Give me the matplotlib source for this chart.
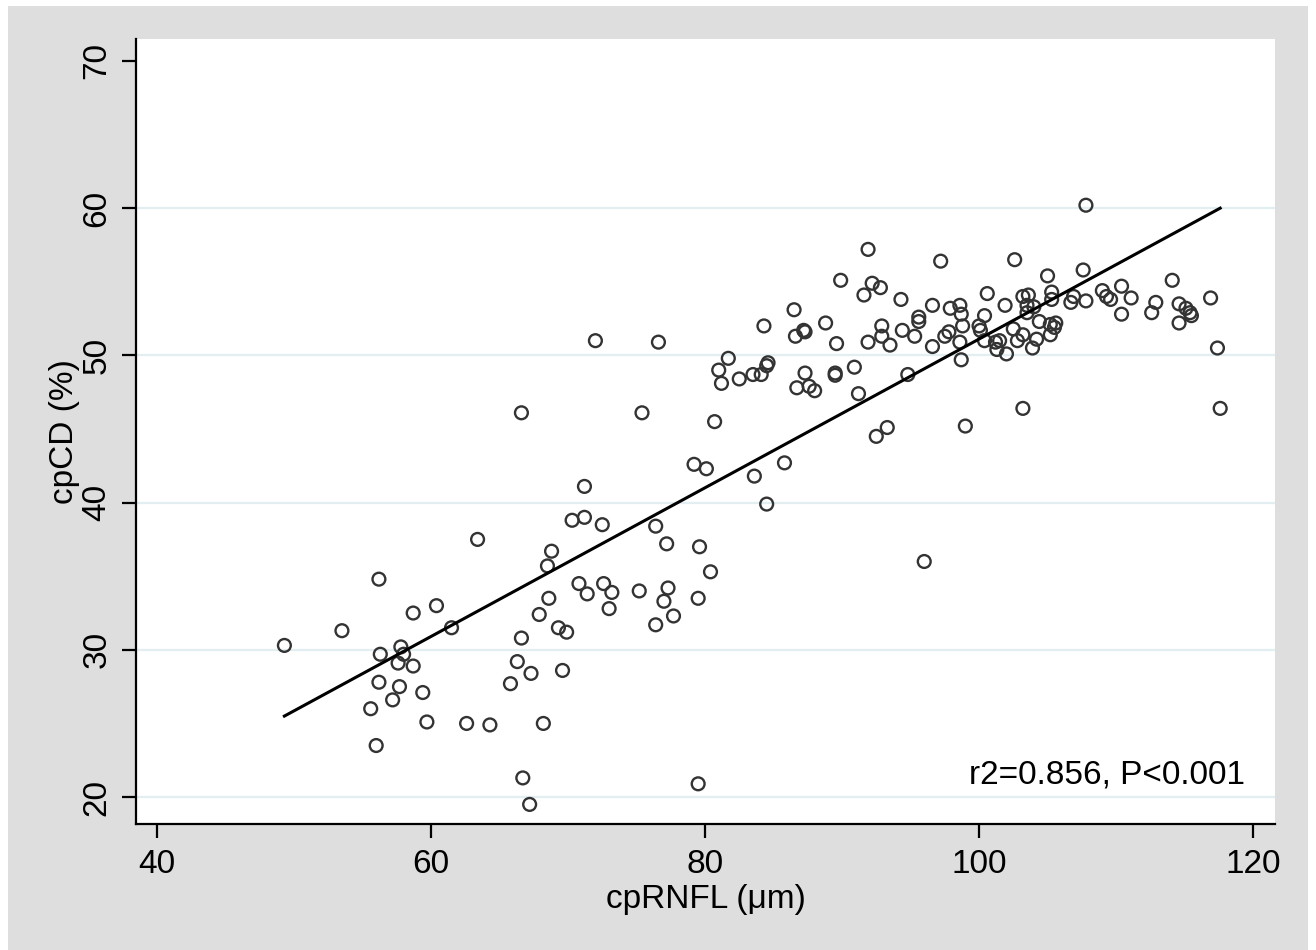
import matplotlib.pyplot as plt
from matplotlib.patches import Rectangle

plt.rcParams['font.family'] = ['Liberation Sans', 'DejaVu Sans']

# cpRNFL (um) values
rnfl = [49.3, 53.5, 56.2, 63.4, 70.3, 71.2, 72.5, 68.8, 68.5, 70.8,
        71.4, 72.6, 73.0, 73.2, 60.4, 58.7, 61.5, 56.3, 57.8, 58.0,
        57.6, 58.7, 56.2, 57.7, 59.4, 57.2, 55.6, 59.7, 62.6, 64.3,
        68.2, 56.0, 66.6, 66.3, 67.3, 65.8, 67.9, 68.6, 69.3, 69.9,
        69.6, 66.7, 67.2,
        66.6, 75.4, 80.7, 79.2, 80.1, 83.6, 84.5, 71.2, 75.2, 76.4,
        77.2, 79.6, 80.4, 77.3, 77.0, 79.5, 77.7, 76.4, 79.5, 72.0,
        76.6,
        86.5, 84.3, 88.8, 86.6, 87.2, 87.3, 89.6, 91.9, 92.9, 92.9,
        93.5, 94.4, 95.3, 95.6, 95.6, 96.6, 96.6, 97.5, 97.8, 97.9,
        98.6, 98.7, 98.8, 98.6, 98.7, 100.0, 100.1, 100.4, 100.4, 81.7,
        81.0, 81.2, 82.5, 83.5, 84.1, 84.6, 84.5, 86.7, 87.3, 87.6,
        88.0, 89.5, 89.5, 90.9, 91.2, 94.8, 92.5, 93.3, 99.0, 85.8,
        96.0,
        107.8, 91.9, 97.2, 102.6, 89.9, 92.2, 92.8, 91.6, 94.3, 100.6,
        101.9, 103.2, 103.6, 105.0, 105.3, 107.6, 106.9, 106.7, 107.8, 105.3,
        103.5, 104.0, 103.5, 101.2, 101.5, 101.3, 102.0, 102.5, 102.8, 103.2,
        104.4, 104.2, 103.9, 105.2, 105.5, 105.6, 105.2, 103.2,
        114.1, 116.9, 110.4, 109.0, 109.3, 109.6, 111.1, 110.4, 112.9, 112.6,
        114.6, 115.1, 115.4, 115.5, 114.6, 117.4, 117.6]

# cpCD (%) values
cpcd = [30.3, 31.3, 34.8, 37.5, 38.8, 39.0, 38.5, 36.7, 35.7, 34.5,
        33.8, 34.5, 32.8, 33.9, 33.0, 32.5, 31.5, 29.7, 30.2, 29.7,
        29.1, 28.9, 27.8, 27.5, 27.1, 26.6, 26.0, 25.1, 25.0, 24.9,
        25.0, 23.5, 30.8, 29.2, 28.4, 27.7, 32.4, 33.5, 31.5, 31.2,
        28.6, 21.3, 19.5,
        46.1, 46.1, 45.5, 42.6, 42.3, 41.8, 39.9, 41.1, 34.0, 38.4,
        37.2, 37.0, 35.3, 34.2, 33.3, 33.5, 32.3, 31.7, 20.9, 51.0,
        50.9,
        53.1, 52.0, 52.2, 51.3, 51.7, 51.6, 50.8, 50.9, 52.0, 51.3,
        50.7, 51.7, 51.3, 52.6, 52.3, 53.4, 50.6, 51.3, 51.6, 53.2,
        53.4, 52.8, 52.0, 50.9, 49.7, 52.0, 51.7, 52.7, 51.0, 49.8,
        49.0, 48.1, 48.4, 48.7, 48.7, 49.5, 49.3, 47.8, 48.8, 47.9,
        47.6, 48.8, 48.65, 49.2, 47.4, 48.7, 44.5, 45.1, 45.2, 42.7,
        36.0,
        60.2, 57.2, 56.4, 56.5, 55.1, 54.9, 54.6, 54.1, 53.8, 54.2,
        53.4, 54.0, 54.1, 55.4, 54.3, 55.8, 54.0, 53.6, 53.7, 53.8,
        53.4, 53.3, 52.9, 50.9, 51.0, 50.4, 50.1, 51.8, 51.0, 51.4,
        52.3, 51.1, 50.5, 52.1, 51.9, 52.2, 51.4, 46.4,
        55.1, 53.9, 54.7, 54.4, 54.0, 53.8, 53.9, 52.8, 53.6, 52.9,
        53.5, 53.2, 52.9, 52.7, 52.2, 50.5, 46.4]

# fitted line end points
fit_x = [49.3, 117.6]
fit_y = [25.5, 60.0]

x_ticks = [40, 60, 80, 100, 120]
y_ticks = [20, 30, 40, 50, 60, 70]
grid_y = [20, 30, 40, 50, 60]

fig = plt.figure(figsize=(13.16, 9.5), dpi=100, facecolor='white')
bg = Rectangle((8 / 1316, 0), 1300 / 1316, 944 / 950,
               transform=fig.transFigure, facecolor='#dedede',
               edgecolor='none', zorder=-10)
fig.patches.append(bg)
ax = fig.add_axes([136 / 1316, 1 - 824 / 950, 1139 / 1316, 785 / 950])
ax.set_zorder(5)
ax.set_facecolor('white')

for g in grid_y:
    ax.axhline(g, color='#e2eef1', lw=1.6, zorder=1)

ax.scatter(rnfl, cpcd, s=85, facecolors='none', edgecolors='#333333',
           linewidths=1.7, zorder=3)
ax.plot(fit_x, fit_y, color='black', lw=2.2, zorder=4)

ax.set_xlim(38.47, 121.6)
ax.set_ylim(18.17, 71.49)
ax.set_xticks(x_ticks)
ax.set_yticks(y_ticks)
ax.tick_params(axis='both', length=10, width=1.6, labelsize=24, color='black')
ax.tick_params(axis='x', pad=8)
ax.tick_params(axis='y', pad=7)
plt.setp(ax.get_yticklabels(), rotation=90, va='center')

for side in ['top', 'right']:
    ax.spines[side].set_visible(False)
for side in ['left', 'bottom']:
    ax.spines[side].set_linewidth(1.6)

ax.set_xlabel('cpRNFL (μm)', fontsize=24, labelpad=3)
ax.set_ylabel('cpCD (%)', fontsize=24, labelpad=1)

ax.text(119.4, 20.95, 'r2=0.856, P<0.001', fontsize=24, ha='right',
        va='baseline')

fig.savefig('out.png', dpi=100, facecolor=fig.get_facecolor())
